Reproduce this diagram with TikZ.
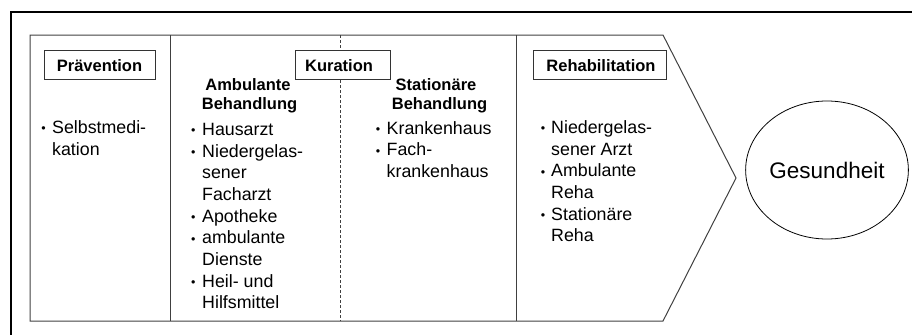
\documentclass[tikz,border=0pt]{standalone}
\usepackage{fontspec}
\setmainfont{Liberation Sans}
\usetikzlibrary{shapes.geometric}
\tikzset{
  frameline/.style={line width=1.5pt, black},
  shapeline/.style={line width=1pt, black!75},
  dashline/.style={line width=0.9pt, black!75, dash pattern=on 3pt off 2pt},
  headbox/.style={draw=black!80, line width=1pt, fill=white, inner sep=0pt,
    font=\fontsize{16.5}{19}\selectfont\bfseries, text height=14.4pt, text depth=0pt},
  head/.style={anchor=base, inner sep=0pt, font=\fontsize{16.5}{19}\selectfont\bfseries},
  txt/.style={anchor=base west, inner sep=0pt, font=\fontsize{17.8}{21.6}\selectfont},
  bul/.style={anchor=base, inner sep=0pt, font=\fontsize{12.5}{12.5}\selectfont},
  goal/.style={draw=black, line width=0.8pt, ellipse, inner sep=0pt,
    minimum width=158pt, minimum height=138pt, font=\fontsize{22.5}{26}\selectfont}
}
\newcommand{\mybul}{\raisebox{0.3pt}{•}}
\begin{document}
\begin{tikzpicture}[x=1pt,y=-1pt]
\useasboundingbox (0,0) rectangle (912,335);
% outer frame (top and left only)
\coordinate (fTL) at (11,12);
\coordinate (fTR) at (912,12);
\coordinate (fBL) at (11,335);
\draw[frameline] (fTR) -- (fTL) -- (fBL);
% inner arrow shape
\coordinate (sTL) at (30,35);
\coordinate (sTR) at (663,35);
\coordinate (sTip) at (736,178);
\coordinate (sBR) at (663,321);
\coordinate (sBL) at (30,321);
\draw[shapeline] (sTL) -- (sTR) -- (sTip) -- (sBR) -- (sBL) -- cycle;
\coordinate (d1t) at (170,35); \coordinate (d1b) at (170,321);
\coordinate (d2t) at (516,35); \coordinate (d2b) at (516,321);
\coordinate (dmt) at (340,35); \coordinate (dmb) at (340,321);
\draw[shapeline] (d1t) -- (d1b);
\draw[shapeline] (d2t) -- (d2b);
\draw[dashline] (dmt) -- (dmb);
% header boxes
\node[headbox, minimum width=111pt, minimum height=29pt] (prav) at (99.5,64.5) {Prävention};
\node[headbox, minimum width=95pt, minimum height=29pt] (kur) at (342.5,64.5) {\hspace{-7pt}Kuration};
\node[headbox, minimum width=133pt, minimum height=29pt] (reha) at (599.5,64.5) {\hspace{3pt}Rehabilitation};
% sub headers
\node[head] (amb1) at (248,90) {Ambulante};
\node[head] (amb2) at (249.5,109) {Behandlung};
\node[head] (sta1) at (436,90) {Stationäre};
\node[head] (sta2) at (439.5,109) {Behandlung};
% Prävention list
\node[bul] (pb1) at (43.5,133) {\mybul};
\node[txt] (p1) at (52,133) {Selbstmedi-};
\node[txt] (p2) at (52,155) {kation};
% Ambulant list
\node[bul] (ab1) at (193.3,135) {\mybul};
\node[txt] (a1) at (202,135) {Hausarzt};
\node[bul] (ab2) at (193.3,157) {\mybul};
\node[txt] (a2) at (202,157) {Niedergelas-};
\node[txt] (a3) at (202,178.5) {sener};
\node[txt] (a4) at (202,200) {Facharzt};
\node[bul] (ab3) at (193.3,222) {\mybul};
\node[txt] (a5) at (202,222) {Apotheke};
\node[bul] (ab4) at (193.3,243.5) {\mybul};
\node[txt] (a6) at (202,243.5) {ambulante};
\node[txt] (a7) at (202,265) {Dienste};
\node[bul] (ab5) at (193.3,287) {\mybul};
\node[txt] (a8) at (202,287) {Heil- und};
\node[txt] (a9) at (202,308.5) {Hilfsmittel};
% Stationär list
\node[bul] (sb1) at (378,134) {\mybul};
\node[txt] (s1) at (386.5,134) {Krankenhaus};
\node[bul] (sb2) at (378,155.5) {\mybul};
\node[txt] (s2) at (386.5,155.5) {Fach-};
\node[txt] (s3) at (386.5,177) {krankenhaus};
% Reha list
\node[bul] (rb1) at (543,133) {\mybul};
\node[txt] (r1) at (551,133) {Niedergelas-};
\node[txt] (r2) at (551,155) {sener Arzt};
\node[bul] (rb2) at (543,176.5) {\mybul};
\node[txt] (r3) at (551,176.5) {Ambulante};
\node[txt] (r4) at (551,198) {Reha};
\node[bul] (rb3) at (543,220) {\mybul};
\node[txt] (r5) at (551,220) {Stationäre};
\node[txt] (r6) at (551,241.5) {Reha};
% goal
\node[goal] (ges) at (827,170) {Gesundheit};
\end{tikzpicture}
\end{document}
